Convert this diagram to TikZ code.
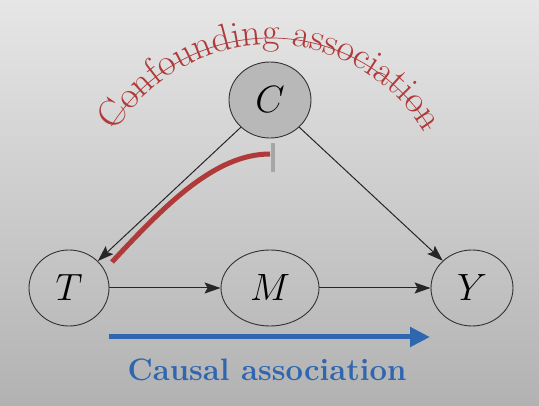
\RequirePackage{fix-cm}
\documentclass[tikz,border=0pt]{standalone}
\usetikzlibrary{shapes.geometric,arrows.meta,decorations.text}
\definecolor{bgtop}{HTML}{E6E6E6}
\definecolor{bgbot}{HTML}{B2B2B2}
\definecolor{cred}{HTML}{B03A3A}
\definecolor{cblue}{HTML}{2F66B0}
\definecolor{cgray}{HTML}{B8B8B8}
\definecolor{bargray}{HTML}{A6A6A6}
\begin{document}
\begin{tikzpicture}[x=1pt,y=1pt,
  var/.style={draw=black!80, line width=0.9pt, ellipse, inner sep=0pt,
    minimum height=76pt, font=\fontsize{38}{40}\selectfont},
  edge/.style={draw=black!85, line width=1pt,
    -{Stealth[length=16pt,width=11pt,inset=3pt]}},
  causal/.style={draw=cblue, line width=5pt,
    -{Triangle[length=20pt,width=19pt]}},
  confound/.style={draw=cred, line width=5pt},
  blocker/.style={draw=bargray, line width=4pt}]
\shade[top color=bgtop, bottom color=bgbot] (0,0) rectangle (539,405);
\useasboundingbox (0,0) rectangle (539,405);
% nodes
\node[var, fill=cgray, minimum width=82pt] (C) at (270,305) {$C$};
\node[var, minimum width=80pt] (T) at (69,117) {$T$};
\node[var, minimum width=98pt] (M) at (270,117) {$M$};
\node[var, minimum width=82pt] (Y) at (472,117) {$Y$};
% edges
\draw[edge] (T) -- (M);
\draw[edge] (M) -- (Y);
\draw[edge] (C) -- (T);
\draw[edge] (C) -- (Y);
% causal association
\coordinate (ca1) at (109,68);
\coordinate (ca2) at (430,68);
\draw[causal] (ca1) -- (ca2);
\node[anchor=base, text=cblue, font=\bfseries\fontsize{31}{33}\selectfont] (ct) at (267,25) {Causal association};
% confounding association
\coordinate (cf1) at (112,143);
\coordinate (cf2) at (270,251);
\draw[confound, line cap=butt] (cf1) .. controls (165,200) and (215,251) .. (cf2);
\coordinate (b1) at (273,262);
\coordinate (b2) at (273,233);
\draw[blocker] (b1) -- (b2);
\coordinate (arcc) at (270,180);
\draw[cred, line width=0.7pt] ([shift={(148:187)}]arcc) arc[start angle=148, end angle=31, radius=187];
\path[decorate, decoration={text along path, text align=center,
   text={|\fontsize{38}{40}\selectfont\color{cred}|Confounding association}}]
   ([shift={(160:180)}]arcc) arc[start angle=160, end angle=20, radius=180];
\end{tikzpicture}
\end{document}
